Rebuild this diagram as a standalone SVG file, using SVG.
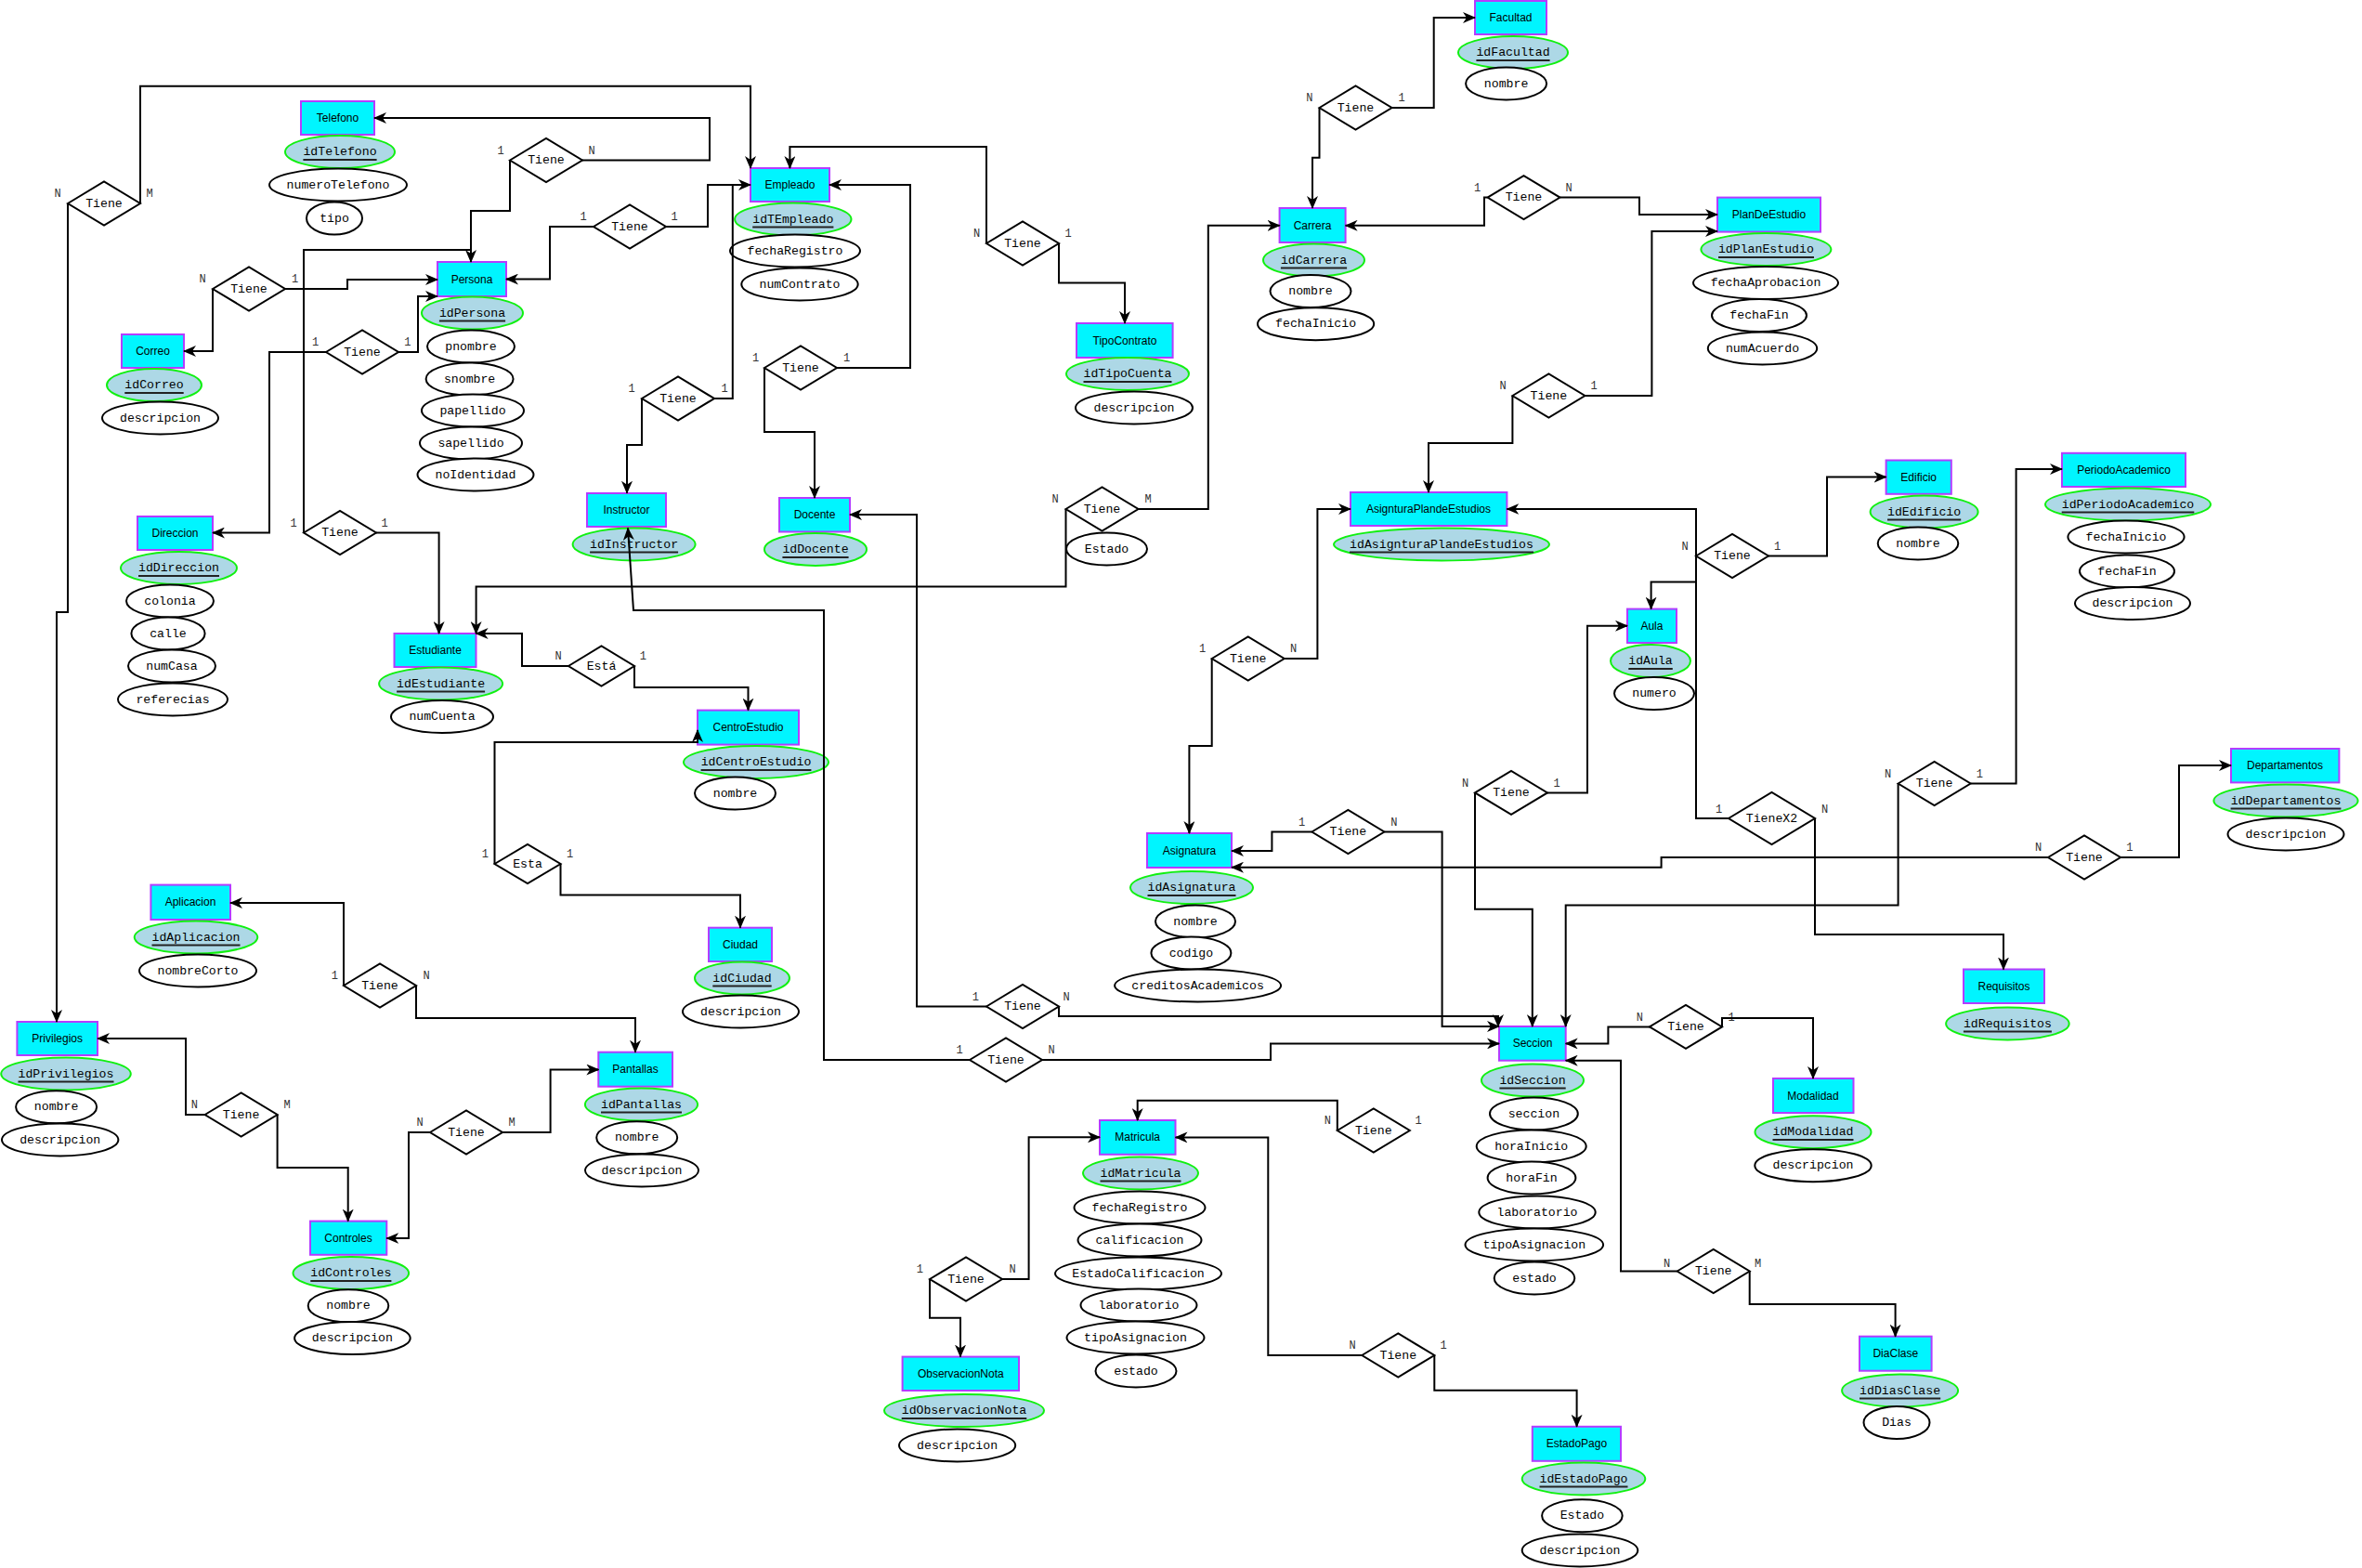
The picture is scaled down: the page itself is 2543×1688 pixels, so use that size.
<svg xmlns="http://www.w3.org/2000/svg" width="2543" height="1688" viewBox="0 0 2543 1688">
<style>
.ent>rect{fill:#00f5ff;stroke:#b43cff;stroke-width:2}
.ent>text{font-family:"Liberation Sans",Arial,sans-serif;font-size:12px;text-anchor:middle;dominant-baseline:central;fill:#000}
ellipse.k{fill:#add8e6;stroke:#10f010;stroke-width:2}
ellipse.a{fill:#fff;stroke:#000;stroke-width:2}
text.t{font-family:"Liberation Mono","Courier New",monospace;font-size:13.2px;text-anchor:middle;dominant-baseline:central;fill:#000}
line.u{stroke:#222;stroke-width:2}
.rel polygon{fill:#fff;stroke:#000;stroke-width:2}
text.c{font-family:"Liberation Mono","Courier New",monospace;font-size:12px;fill:#333;text-anchor:middle;dominant-baseline:central}
#conn path{fill:none;stroke:#000;stroke-width:2;marker-end:url(#arr)}
#conn path.n{marker-end:none}
</style>
<defs>
<marker id="arr" viewBox="0 0 14 12" refX="13" refY="6" markerWidth="14" markerHeight="12" markerUnits="userSpaceOnUse" orient="auto"><path d="M0,0 L14,6 L0,12 L4,6 Z" fill="#000"/></marker>
</defs>
<rect width="2543" height="1688" fill="#fff"/>

<g id="telefono" class="ent"><rect x="324" y="109" width="79" height="36"/><text x="363.5" y="127">Telefono</text>
<ellipse class="k" cx="366" cy="163.5" rx="59" ry="17.5"/><text class="t" x="366" y="163.5">idTelefono</text><line class="u" x1="326.4" x2="405.6" y1="172" y2="172"/>
<ellipse class="a" cx="364" cy="199" rx="74" ry="17.5"/><text class="t" x="364" y="199">numeroTelefono</text>
<ellipse class="a" cx="360" cy="235" rx="30" ry="17.5"/><text class="t" x="360" y="235">tipo</text></g>

<g id="persona" class="ent"><rect x="471" y="282" width="74" height="37"/><text x="508" y="300.5">Persona</text>
<ellipse class="k" cx="508.5" cy="337" rx="54.5" ry="17.5"/><text class="t" x="508.5" y="337">idPersona</text><line class="u" x1="472.9" x2="544.1" y1="345.5" y2="345.5"/>
<ellipse class="a" cx="507" cy="373" rx="47" ry="17.5"/><text class="t" x="507" y="373">pnombre</text>
<ellipse class="a" cx="505.6" cy="408" rx="47" ry="17.5"/><text class="t" x="505.6" y="408">snombre</text>
<ellipse class="a" cx="509" cy="442" rx="55" ry="17.5"/><text class="t" x="509" y="442">papellido</text>
<ellipse class="a" cx="507" cy="477" rx="55" ry="17.5"/><text class="t" x="507" y="477">sapellido</text>
<ellipse class="a" cx="512" cy="511" rx="62.5" ry="17.5"/><text class="t" x="512" y="511">noIdentidad</text></g>

<g id="correo" class="ent"><rect x="131" y="360" width="67" height="36"/><text x="164.5" y="378">Correo</text>
<ellipse class="k" cx="166" cy="414.5" rx="51" ry="17.5"/><text class="t" x="166" y="414.5">idCorreo</text><line class="u" x1="134.3" x2="197.7" y1="423" y2="423"/>
<ellipse class="a" cx="172.5" cy="450" rx="62.5" ry="17.5"/><text class="t" x="172.5" y="450">descripcion</text></g>

<g id="direccion" class="ent"><rect x="148" y="556" width="81" height="36"/><text x="188.5" y="574">Direccion</text>
<ellipse class="k" cx="192.5" cy="611.5" rx="62.5" ry="17.5"/><text class="t" x="192.5" y="611.5">idDireccion</text><line class="u" x1="149" x2="236" y1="620" y2="620"/>
<ellipse class="a" cx="183" cy="647" rx="47" ry="17.5"/><text class="t" x="183" y="647">colonia</text>
<ellipse class="a" cx="181" cy="682" rx="39.6" ry="17.5"/><text class="t" x="181" y="682">calle</text>
<ellipse class="a" cx="185" cy="717" rx="47" ry="17.5"/><text class="t" x="185" y="717">numCasa</text>
<ellipse class="a" cx="186" cy="753" rx="59" ry="17.5"/><text class="t" x="186" y="753">referecias</text></g>

<g id="empleado" class="ent"><rect x="808" y="181" width="85" height="36"/><text x="850.5" y="199">Empleado</text>
<ellipse class="k" cx="853.8" cy="236" rx="62.7" ry="17.5"/><text class="t" x="853.8" y="236">idTEmpleado</text><line class="u" x1="810.2" x2="897.4" y1="244.5" y2="244.5"/>
<ellipse class="a" cx="856" cy="270" rx="70" ry="17.5"/><text class="t" x="856" y="270">fechaRegistro</text>
<ellipse class="a" cx="861" cy="306" rx="62.7" ry="17.5"/><text class="t" x="861" y="306">numContrato</text></g>

<g id="instructor" class="ent"><rect x="632" y="531" width="85" height="36"/><text x="674.5" y="549">Instructor</text>
<ellipse class="k" cx="682.6" cy="586" rx="66" ry="17.5"/><text class="t" x="682.6" y="586">idInstructor</text><line class="u" x1="635.1" x2="730.1" y1="594.5" y2="594.5"/></g>

<g id="docente" class="ent"><rect x="839" y="536" width="76" height="36.5"/><text x="877" y="554">Docente</text>
<ellipse class="k" cx="878" cy="591.4" rx="55" ry="17.5"/><text class="t" x="878" y="591.4">idDocente</text><line class="u" x1="842.4" x2="913.6" y1="600" y2="600"/></g>

<g id="tipocontrato" class="ent"><rect x="1159" y="348" width="103.6" height="37"/><text x="1211" y="366.5">TipoContrato</text>
<ellipse class="k" cx="1214" cy="402.5" rx="66" ry="17.5"/><text class="t" x="1214" y="402.5">idTipoCuenta</text><line class="u" x1="1166.5" x2="1261.5" y1="411" y2="411"/>
<ellipse class="a" cx="1221" cy="439" rx="63" ry="17.5"/><text class="t" x="1221" y="439">descripcion</text></g>

<g id="estudiante" class="ent"><rect x="424.5" y="682" width="88" height="36"/><text x="468.5" y="700">Estudiante</text>
<ellipse class="k" cx="474.6" cy="736" rx="66.5" ry="17.5"/><text class="t" x="474.6" y="736">idEstudiante</text><line class="u" x1="427.1" x2="522.1" y1="744.5" y2="744.5"/>
<ellipse class="a" cx="476" cy="771.5" rx="55" ry="17.5"/><text class="t" x="476" y="771.5">numCuenta</text></g>

<g id="centroestudio" class="ent"><rect x="751" y="764.6" width="109" height="37"/><text x="805.5" y="783">CentroEstudio</text>
<ellipse class="k" cx="814" cy="820.5" rx="78" ry="17.5"/><text class="t" x="814" y="820.5">idCentroEstudio</text><line class="u" x1="754.6" x2="873.4" y1="829" y2="829"/>
<ellipse class="a" cx="791.5" cy="854" rx="43.5" ry="17.5"/><text class="t" x="791.5" y="854">nombre</text></g>

<g id="ciudad" class="ent"><rect x="763" y="998.7" width="68" height="36.3"/><text x="797" y="1017">Ciudad</text>
<ellipse class="k" cx="799" cy="1053" rx="51" ry="17.5"/><text class="t" x="799" y="1053">idCiudad</text><line class="u" x1="767.3" x2="830.7" y1="1061.5" y2="1061.5"/>
<ellipse class="a" cx="797.5" cy="1089" rx="62.5" ry="17.5"/><text class="t" x="797.5" y="1089">descripcion</text></g>

<g id="aplicacion" class="ent"><rect x="162.4" y="952.6" width="85.6" height="37.4"/><text x="205" y="971">Aplicacion</text>
<ellipse class="k" cx="211" cy="1009" rx="66.3" ry="17.5"/><text class="t" x="211" y="1009">idAplicacion</text><line class="u" x1="163.5" x2="258.5" y1="1017.5" y2="1017.5"/>
<ellipse class="a" cx="213" cy="1045" rx="63" ry="17.5"/><text class="t" x="213" y="1045">nombreCorto</text></g>

<g id="privilegios" class="ent"><rect x="18.4" y="1100" width="86.6" height="36"/><text x="61.7" y="1118">Privilegios</text>
<ellipse class="k" cx="71" cy="1156" rx="69.8" ry="17.5"/><text class="t" x="71" y="1156">idPrivilegios</text><line class="u" x1="19.5" x2="122.5" y1="1164.5" y2="1164.5"/>
<ellipse class="a" cx="60.6" cy="1191.8" rx="43.5" ry="17.5"/><text class="t" x="60.6" y="1191.8">nombre</text>
<ellipse class="a" cx="64.7" cy="1227" rx="62.7" ry="17.5"/><text class="t" x="64.7" y="1227">descripcion</text></g>

<g id="controles" class="ent"><rect x="334" y="1314.6" width="82.3" height="36.2"/><text x="375" y="1332.7">Controles</text>
<ellipse class="k" cx="377.8" cy="1370.6" rx="62.3" ry="17.5"/><text class="t" x="377.8" y="1370.6">idControles</text><line class="u" x1="334.3" x2="421.4" y1="1379" y2="1379"/>
<ellipse class="a" cx="375" cy="1405.8" rx="43.3" ry="17.5"/><text class="t" x="375" y="1405.8">nombre</text>
<ellipse class="a" cx="379.4" cy="1440.6" rx="62.3" ry="17.5"/><text class="t" x="379.4" y="1440.6">descripcion</text></g>

<g id="pantallas" class="ent"><rect x="644.3" y="1132.7" width="79.7" height="37"/><text x="684" y="1151">Pantallas</text>
<ellipse class="k" cx="690.5" cy="1189" rx="60.6" ry="17.5"/><text class="t" x="690.5" y="1189">idPantallas</text><line class="u" x1="647" x2="734" y1="1197.5" y2="1197.5"/>
<ellipse class="a" cx="685.7" cy="1224.7" rx="43.5" ry="17.5"/><text class="t" x="685.7" y="1224.7">nombre</text>
<ellipse class="a" cx="691" cy="1260" rx="61" ry="17.5"/><text class="t" x="691" y="1260">descripcion</text></g>

<g id="facultad" class="ent"><rect x="1588" y="1" width="77" height="36"/><text x="1626.5" y="19">Facultad</text>
<ellipse class="k" cx="1629" cy="56.5" rx="59" ry="17.5"/><text class="t" x="1629" y="56.5">idFacultad</text><line class="u" x1="1589.4" x2="1668.6" y1="65" y2="65"/>
<ellipse class="a" cx="1621.6" cy="90" rx="43.5" ry="17.5"/><text class="t" x="1621.6" y="90">nombre</text></g>

<g id="carrera" class="ent"><rect x="1377.6" y="224" width="71" height="37"/><text x="1413" y="242.5">Carrera</text>
<ellipse class="k" cx="1414.5" cy="280" rx="54.5" ry="17.5"/><text class="t" x="1414.5" y="280">idCarrera</text><line class="u" x1="1378.9" x2="1450.1" y1="288.5" y2="288.5"/>
<ellipse class="a" cx="1411" cy="313.5" rx="43.5" ry="17.5"/><text class="t" x="1411" y="313.5">nombre</text>
<ellipse class="a" cx="1416.6" cy="348.7" rx="62.6" ry="17.5"/><text class="t" x="1416.6" y="348.7">fechaInicio</text></g>

<g id="plandeestudio" class="ent"><rect x="1849" y="212.6" width="111" height="37"/><text x="1904.5" y="231">PlanDeEstudio</text>
<ellipse class="k" cx="1901.4" cy="268.5" rx="70" ry="17.5"/><text class="t" x="1901.4" y="268.5">idPlanEstudio</text><line class="u" x1="1850" x2="1953" y1="277" y2="277"/>
<ellipse class="a" cx="1901" cy="304.5" rx="78" ry="17.5"/><text class="t" x="1901" y="304.5">fechaAprobacion</text>
<ellipse class="a" cx="1894" cy="339.5" rx="51" ry="17.5"/><text class="t" x="1894" y="339.5">fechaFin</text>
<ellipse class="a" cx="1897.5" cy="375" rx="58.7" ry="17.5"/><text class="t" x="1897.5" y="375">numAcuerdo</text></g>

<g id="asignaturaplan" class="ent"><rect x="1454" y="530" width="168.4" height="36"/><text x="1538" y="548">AsignturaPlandeEstudios</text>
<ellipse class="k" cx="1552" cy="586" rx="116" ry="17.5"/><text class="t" x="1552" y="586">idAsignturaPlandeEstudios</text><line class="u" x1="1453" x2="1651" y1="594.5" y2="594.5"/></g>

<g id="asignatura" class="ent"><rect x="1235" y="897" width="91" height="37"/><text x="1280.5" y="915.5">Asignatura</text>
<ellipse class="k" cx="1283" cy="955.5" rx="66" ry="17.5"/><text class="t" x="1283" y="955.5">idAsignatura</text><line class="u" x1="1235.5" x2="1330.5" y1="964" y2="964"/>
<ellipse class="a" cx="1287" cy="992" rx="43" ry="17.5"/><text class="t" x="1287" y="992">nombre</text>
<ellipse class="a" cx="1282.4" cy="1026" rx="43" ry="17.5"/><text class="t" x="1282.4" y="1026">codigo</text>
<ellipse class="a" cx="1289.6" cy="1061" rx="89.5" ry="17.5"/><text class="t" x="1289.6" y="1061">creditosAcademicos</text></g>

<g id="aula" class="ent"><rect x="1752" y="655.6" width="53" height="36.4"/><text x="1778.4" y="674">Aula</text>
<ellipse class="k" cx="1777" cy="711.5" rx="43" ry="17.5"/><text class="t" x="1777" y="711.5">idAula</text><line class="u" x1="1753.3" x2="1800.8" y1="720" y2="720"/>
<ellipse class="a" cx="1781" cy="746.5" rx="43" ry="17.5"/><text class="t" x="1781" y="746.5">numero</text></g>

<g id="edificio" class="ent"><rect x="2030.6" y="495.5" width="70.2" height="36.3"/><text x="2065.7" y="513.6">Edificio</text>
<ellipse class="k" cx="2071.6" cy="551" rx="58" ry="17.5"/><text class="t" x="2071.6" y="551">idEdificio</text><line class="u" x1="2032" x2="2111.2" y1="559.5" y2="559.5"/>
<ellipse class="a" cx="2065" cy="585" rx="43.3" ry="17.5"/><text class="t" x="2065" y="585">nombre</text></g>

<g id="periodoacademico" class="ent"><rect x="2220" y="487.8" width="133" height="36.2"/><text x="2286.5" y="506">PeriodoAcademico</text>
<ellipse class="k" cx="2291" cy="543" rx="89" ry="17.5"/><text class="t" x="2291" y="543">idPeriodoAcademico</text><line class="u" x1="2219.7" x2="2362.3" y1="551.5" y2="551.5"/>
<ellipse class="a" cx="2289" cy="578" rx="62.6" ry="17.5"/><text class="t" x="2289" y="578">fechaInicio</text>
<ellipse class="a" cx="2290" cy="615" rx="51" ry="17.5"/><text class="t" x="2290" y="615">fechaFin</text>
<ellipse class="a" cx="2296" cy="649.5" rx="62" ry="17.5"/><text class="t" x="2296" y="649.5">descripcion</text></g>

<g id="departamentos" class="ent"><rect x="2402" y="806" width="116.4" height="36.4"/><text x="2460" y="824">Departamentos</text>
<ellipse class="k" cx="2461" cy="862" rx="77.6" ry="17.5"/><text class="t" x="2461" y="862">idDepartamentos</text><line class="u" x1="2401.6" x2="2520.4" y1="870.5" y2="870.5"/>
<ellipse class="a" cx="2461" cy="898" rx="62.5" ry="17.5"/><text class="t" x="2461" y="898">descripcion</text></g>

<g id="requisitos" class="ent"><rect x="2114" y="1043.5" width="87" height="36.5"/><text x="2157.5" y="1062">Requisitos</text>
<ellipse class="k" cx="2161.4" cy="1102" rx="66.3" ry="17.5"/><text class="t" x="2161.4" y="1102">idRequisitos</text><line class="u" x1="2113.9" x2="2208.9" y1="1110.5" y2="1110.5"/></g>

<g id="seccion" class="ent"><rect x="1614" y="1105" width="71.7" height="36.7"/><text x="1650" y="1123.4">Seccion</text>
<ellipse class="k" cx="1650" cy="1163" rx="55" ry="17.5"/><text class="t" x="1650" y="1163">idSeccion</text><line class="u" x1="1614.4" x2="1685.7" y1="1171.5" y2="1171.5"/>
<ellipse class="a" cx="1651.4" cy="1199" rx="47.4" ry="17.5"/><text class="t" x="1651.4" y="1199">seccion</text>
<ellipse class="a" cx="1648.7" cy="1234" rx="59" ry="17.5"/><text class="t" x="1648.7" y="1234">horaInicio</text>
<ellipse class="a" cx="1649" cy="1268" rx="47.4" ry="17.5"/><text class="t" x="1649" y="1268">horaFin</text>
<ellipse class="a" cx="1655" cy="1305" rx="62.7" ry="17.5"/><text class="t" x="1655" y="1305">laboratorio</text>
<ellipse class="a" cx="1651.8" cy="1340" rx="74.3" ry="17.5"/><text class="t" x="1651.8" y="1340">tipoAsignacion</text>
<ellipse class="a" cx="1652" cy="1376" rx="43.3" ry="17.5"/><text class="t" x="1652" y="1376">estado</text></g>

<g id="modalidad" class="ent"><rect x="1909" y="1161" width="86.5" height="37"/><text x="1952" y="1179.5">Modalidad</text>
<ellipse class="k" cx="1952" cy="1218.7" rx="62.5" ry="17.5"/><text class="t" x="1952" y="1218.7">idModalidad</text><line class="u" x1="1908.5" x2="1995.5" y1="1227" y2="1227"/>
<ellipse class="a" cx="1952" cy="1254.7" rx="62.7" ry="17.5"/><text class="t" x="1952" y="1254.7">descripcion</text></g>

<g id="diaclase" class="ent"><rect x="2002" y="1438.7" width="77.6" height="37"/><text x="2040.8" y="1457">DiaClase</text>
<ellipse class="k" cx="2045.6" cy="1497" rx="62.5" ry="17.5"/><text class="t" x="2045.6" y="1497">idDiasClase</text><line class="u" x1="2002" x2="2089.2" y1="1505.5" y2="1505.5"/>
<ellipse class="a" cx="2042" cy="1531.5" rx="35.5" ry="17.5"/><text class="t" x="2042" y="1531.5">Dias</text></g>

<g id="matricula" class="ent"><rect x="1184" y="1206" width="81.5" height="36.8"/><text x="1224.7" y="1224.4">Matricula</text>
<ellipse class="k" cx="1228" cy="1263" rx="62" ry="17.5"/><text class="t" x="1228" y="1263">idMatricula</text><line class="u" x1="1184.5" x2="1271.5" y1="1271.5" y2="1271.5"/>
<ellipse class="a" cx="1227" cy="1300" rx="70.5" ry="17.5"/><text class="t" x="1227" y="1300">fechaRegistro</text>
<ellipse class="a" cx="1227" cy="1335" rx="66.5" ry="17.5"/><text class="t" x="1227" y="1335">calificacion</text>
<ellipse class="a" cx="1225.5" cy="1371" rx="89.5" ry="17.5"/><text class="t" x="1225.5" y="1371">EstadoCalificacion</text>
<ellipse class="a" cx="1226" cy="1405" rx="62.5" ry="17.5"/><text class="t" x="1226" y="1405">laboratorio</text>
<ellipse class="a" cx="1222.5" cy="1440" rx="74" ry="17.5"/><text class="t" x="1222.5" y="1440">tipoAsignacion</text>
<ellipse class="a" cx="1223" cy="1476" rx="43.5" ry="17.5"/><text class="t" x="1223" y="1476">estado</text></g>

<g id="observacionnota" class="ent"><rect x="971.6" y="1460.6" width="125.4" height="36.4"/><text x="1034.3" y="1479">ObservacionNota</text>
<ellipse class="k" cx="1038" cy="1518.5" rx="86" ry="17.5"/><text class="t" x="1038" y="1518.5">idObservacionNota</text><line class="u" x1="970.7" x2="1105.3" y1="1527" y2="1527"/>
<ellipse class="a" cx="1030.6" cy="1556" rx="62.6" ry="17.5"/><text class="t" x="1030.6" y="1556">descripcion</text></g>

<g id="estadopago" class="ent"><rect x="1649.8" y="1535.8" width="95.2" height="37"/><text x="1697.4" y="1554">EstadoPago</text>
<ellipse class="k" cx="1705" cy="1592" rx="66.3" ry="17.5"/><text class="t" x="1705" y="1592">idEstadoPago</text><line class="u" x1="1657.5" x2="1752.5" y1="1600.5" y2="1600.5"/>
<ellipse class="a" cx="1703.4" cy="1631.7" rx="43.3" ry="17.5"/><text class="t" x="1703.4" y="1631.7">Estado</text>
<ellipse class="a" cx="1701" cy="1669" rx="62.3" ry="17.5"/><text class="t" x="1701" y="1669">descripcion</text></g>

<g id="r1" class="rel"><polygon points="73,219 112,195.5 151,219 112,242.5"/><text class="t" x="112" y="219">Tiene</text><text class="c" x="62" y="209">N</text><text class="c" x="161" y="209">M</text></g>
<g id="r2" class="rel"><polygon points="549,172.5 588,149 627,172.5 588,196"/><text class="t" x="588" y="172.5">Tiene</text><text class="c" x="539" y="163">1</text><text class="c" x="637" y="163">N</text></g>
<g id="r3" class="rel"><polygon points="639,244 678,220.5 717,244 678,267.5"/><text class="t" x="678" y="244">Tiene</text><text class="c" x="628" y="234">1</text><text class="c" x="726" y="234">1</text></g>
<g id="r4" class="rel"><polygon points="229,311 268,287.5 307,311 268,334.5"/><text class="t" x="268" y="311">Tiene</text><text class="c" x="218" y="301">N</text><text class="c" x="317.5" y="301">1</text></g>
<g id="r5" class="rel"><polygon points="351,379 390,355.5 429,379 390,402.5"/><text class="t" x="390" y="379">Tiene</text><text class="c" x="339.6" y="369">1</text><text class="c" x="438.8" y="369">1</text></g>
<g id="r6" class="rel"><polygon points="327,573.5 366,550 405,573.5 366,597"/><text class="t" x="366" y="573.5">Tiene</text><text class="c" x="316" y="563.6">1</text><text class="c" x="414" y="563.6">1</text></g>
<g id="r7" class="rel"><polygon points="691,429 730,405.5 769,429 730,452.5"/><text class="t" x="730" y="429">Tiene</text><text class="c" x="680" y="419">1</text><text class="c" x="780" y="419">1</text></g>
<g id="r8" class="rel"><polygon points="823,396 862,372.5 901,396 862,419.5"/><text class="t" x="862" y="396">Tiene</text><text class="c" x="813.7" y="386">1</text><text class="c" x="911.6" y="386">1</text></g>
<g id="r9" class="rel"><polygon points="1062,262 1101,238.5 1140,262 1101,285.5"/><text class="t" x="1101" y="262">Tiene</text><text class="c" x="1051.6" y="251.5">N</text><text class="c" x="1150" y="251.5">1</text></g>
<g id="r10" class="rel"><polygon points="1147.5,548 1186.5,524.5 1225.5,548 1186.5,571.5"/><text class="t" x="1186.5" y="548">Tiene</text><text class="c" x="1136" y="538">N</text><text class="c" x="1236" y="538">M</text>
<ellipse class="a" cx="1191.5" cy="591" rx="43.5" ry="17.5"/><text class="t" x="1191.5" y="591">Estado</text></g>
<g id="r11" class="rel"><polygon points="612,717 647.5,695.5 683,717 647.5,738.5"/><text class="t" x="647.5" y="717">Está</text><text class="c" x="601" y="707">N</text><text class="c" x="692.4" y="707">1</text></g>
<g id="r12" class="rel"><polygon points="532.5,930 568,909 603.5,930 568,951"/><text class="t" x="568" y="930">Esta</text><text class="c" x="522.4" y="920">1</text><text class="c" x="613.5" y="920">1</text></g>
<g id="r13" class="rel"><polygon points="370,1061 409,1037.5 448,1061 409,1084.5"/><text class="t" x="409" y="1061">Tiene</text><text class="c" x="360.4" y="1050.7">1</text><text class="c" x="459" y="1050.7">N</text></g>
<g id="r14" class="rel"><polygon points="220.6,1200 259.6,1176.5 298.6,1200 259.6,1223.5"/><text class="t" x="259.6" y="1200">Tiene</text><text class="c" x="209.4" y="1190">N</text><text class="c" x="309" y="1190">M</text></g>
<g id="r15" class="rel"><polygon points="463,1219 502,1195.5 541,1219 502,1242.5"/><text class="t" x="502" y="1219">Tiene</text><text class="c" x="452" y="1208.8">N</text><text class="c" x="551" y="1208.8">M</text></g>
<g id="r16" class="rel"><polygon points="1062,1083.5 1101,1060 1140,1083.5 1101,1107"/><text class="t" x="1101" y="1083.5">Tiene</text><text class="c" x="1050.4" y="1073.6">1</text><text class="c" x="1148" y="1073.6">N</text></g>
<g id="r17" class="rel"><polygon points="1044,1141 1083,1117.5 1122,1141 1083,1164.5"/><text class="t" x="1083" y="1141">Tiene</text><text class="c" x="1033" y="1131">1</text><text class="c" x="1132" y="1131">N</text></g>
<g id="r18" class="rel"><polygon points="1420.5,116 1459.5,92.5 1498.5,116 1459.5,139.5"/><text class="t" x="1459.5" y="116">Tiene</text><text class="c" x="1409.8" y="106">N</text><text class="c" x="1509" y="106">1</text></g>
<g id="r19" class="rel"><polygon points="1601.5,212.6 1640.5,189.1 1679.5,212.6 1640.5,236.1"/><text class="t" x="1640.5" y="212.6">Tiene</text><text class="c" x="1590.6" y="203">1</text><text class="c" x="1689" y="203">N</text></g>
<g id="r20" class="rel"><polygon points="1628.4,426 1667.4,402.5 1706.4,426 1667.4,449.5"/><text class="t" x="1667.4" y="426">Tiene</text><text class="c" x="1618" y="416">N</text><text class="c" x="1716" y="416">1</text></g>
<g id="r21" class="rel"><polygon points="1304.7,709 1343.7,685.5 1382.7,709 1343.7,732.5"/><text class="t" x="1343.7" y="709">Tiene</text><text class="c" x="1294.7" y="699">1</text><text class="c" x="1392.6" y="699">N</text></g>
<g id="r22" class="rel"><polygon points="1861,881 1907.5,853 1954,881 1907.5,909"/><text class="t" x="1907.5" y="881">TieneX2</text><text class="c" x="1850.6" y="871.5">1</text><text class="c" x="1964.5" y="871.5">N</text></g>
<g id="r23" class="rel"><polygon points="1826,598.5 1865,575 1904,598.5 1865,622"/><text class="t" x="1865" y="598.5">Tiene</text><text class="c" x="1814" y="589">N</text><text class="c" x="1913.5" y="589">1</text></g>
<g id="r24" class="rel"><polygon points="1588,853.4 1627,829.9 1666,853.4 1627,876.9"/><text class="t" x="1627" y="853.4">Tiene</text><text class="c" x="1577.6" y="843.5">N</text><text class="c" x="1676" y="843.5">1</text></g>
<g id="r25" class="rel"><polygon points="1412.4,895.5 1451.4,872 1490.4,895.5 1451.4,919"/><text class="t" x="1451.4" y="895.5">Tiene</text><text class="c" x="1401.6" y="886">1</text><text class="c" x="1500.8" y="886">N</text></g>
<g id="r26" class="rel"><polygon points="2205,923 2244,899.5 2283,923 2244,946.5"/><text class="t" x="2244" y="923">Tiene</text><text class="c" x="2194.6" y="912.6">N</text><text class="c" x="2292.8" y="912.6">1</text></g>
<g id="r27" class="rel"><polygon points="2043.6,843.5 2082.6,820 2121.6,843.5 2082.6,867"/><text class="t" x="2082.6" y="843.5">Tiene</text><text class="c" x="2032.6" y="833.7">N</text><text class="c" x="2131.4" y="833.7">1</text></g>
<g id="r28" class="rel"><polygon points="1776,1105.4 1815,1081.9 1854,1105.4 1815,1128.9"/><text class="t" x="1815" y="1105.4">Tiene</text><text class="c" x="1765.3" y="1096">N</text><text class="c" x="1864" y="1096">1</text></g>
<g id="r29" class="rel"><polygon points="1805.7,1368.5 1844.7,1345 1883.7,1368.5 1844.7,1392"/><text class="t" x="1844.7" y="1368.5">Tiene</text><text class="c" x="1794.7" y="1360.8">N</text><text class="c" x="1892.6" y="1360.8">M</text></g>
<g id="r30" class="rel"><polygon points="1439.8,1217 1478.8,1193.5 1517.8,1217 1478.8,1240.5"/><text class="t" x="1478.8" y="1217">Tiene</text><text class="c" x="1429.4" y="1207">N</text><text class="c" x="1527" y="1207">1</text></g>
<g id="r31" class="rel"><polygon points="1001,1377 1040,1353.5 1079,1377 1040,1400.5"/><text class="t" x="1040" y="1377">Tiene</text><text class="c" x="990.4" y="1367">1</text><text class="c" x="1090" y="1367">N</text></g>
<g id="r32" class="rel"><polygon points="1466.3,1459 1505.3,1435.5 1544.3,1459 1505.3,1482.5"/><text class="t" x="1505.3" y="1459">Tiene</text><text class="c" x="1456" y="1449">N</text><text class="c" x="1554" y="1449">1</text></g>

<g id="conn">
<path d="M151,219 V92.7 H808 V181"/>
<path d="M73,219 V659 H61 V1100"/>
<path d="M627,172.5 H764 V127 H403"/>
<path d="M549,172.5 V227 H507 V282"/>
<path d="M717,244 H762 V199 H808"/>
<path d="M639,244 H592 V300.6 H545"/>
<path d="M307,311 H374 V301 H471"/>
<path d="M229,311 V378 H198"/>
<path d="M429,379 H450 V319 H471"/>
<path d="M351,379 H290 V573.5 H229"/>
<path class="n" d="M327,573.5 V269 H507"/>
<path d="M405,573.5 H472.6 V682"/>
<path class="n" d="M769,429 H788.8 V199"/>
<path d="M691,429 V479 H675 V530.7"/>
<path d="M901,396 H980 V199 H893"/>
<path d="M823,396 V465 H877 V536"/>
<path d="M1062,262 V158 H850.4 V181"/>
<path d="M1140,262 V304.6 H1211 V348"/>
<path d="M1225.5,548 H1300.8 V242.8 H1377.6"/>
<path d="M1147.5,548 V631.6 H512.6 V682"/>
<path d="M612,717 H562 V682 H512.6"/>
<path d="M683,717 V740 H805.5 V764.6"/>
<path d="M532.5,930 V799 H751 V786"/>
<path d="M603.5,930 V963.5 H797 V998.7"/>
<path d="M1044,1141 H887 V657 H682 L676,568.5"/>
<path d="M1122,1141 H1368 V1123.4 H1614"/>
<path d="M1062,1083.5 H987 V554 H915"/>
<path d="M1140,1083.5 V1094 H1613 V1105"/>
<path d="M1420.5,116 V169.8 H1413 V224"/>
<path d="M1498.5,116 H1543.7 V19 H1588"/>
<path d="M1601.5,212.6 H1598 V242.8 H1448.6"/>
<path d="M1679.5,212.6 H1765 V231 H1849"/>
<path d="M1706.4,426 H1778.4 V249 H1849"/>
<path d="M1628.4,426 V477 H1538 V530"/>
<path d="M1382.7,709 H1418.4 V548 H1454"/>
<path d="M1304.7,709 V803 H1280.4 V897"/>
<path d="M1861,881 H1826 V548 H1622.4"/>
<path d="M1954,881 V1006 H2157 V1043.5"/>
<path d="M1904,598.5 H1967 V513.6 H2030.6"/>
<path d="M1826,598.5 V626.5 H1777.6 V655.6"/>
<path d="M1666,853.4 H1709 V673.8 H1752"/>
<path d="M1588,853.4 V978.7 H1649.8 V1105"/>
<path d="M1412.4,895.5 H1369.4 V916 H1326"/>
<path d="M1490.4,895.5 H1552.6 V1105 H1614"/>
<path d="M2205,923 H1788.6 V933.7 H1326"/>
<path d="M2283,923 H2346 V824 H2402"/>
<path d="M2121.6,843.5 H2170.6 V505 H2220"/>
<path d="M2043.6,843.5 V974.4 H1685.7 V1105"/>
<path d="M1776,1105.4 H1731.4 V1123.4 H1685.7"/>
<path d="M1854,1105.4 V1096 H1952 V1161"/>
<path d="M1805.7,1368.5 H1745 V1141.7 H1685.7"/>
<path d="M1883.7,1368.5 V1404 H2040.6 V1438.7"/>
<path d="M1439.8,1217 V1184.7 H1224.7 V1206"/>
<path d="M1079,1377 H1107.6 V1224.3 H1184"/>
<path d="M1001,1377 V1418.8 H1034 V1460.6"/>
<path d="M1466.3,1459 H1365.3 V1224.4 H1265.5"/>
<path d="M1544.3,1459 V1496.7 H1697.6 V1535.8"/>
<path d="M370,1061 V972 H248"/>
<path d="M448,1061 V1096 H684 V1132.7"/>
<path d="M220.6,1200 H200 V1118 H105"/>
<path d="M298.6,1200 V1257 H374.7 V1314.6"/>
<path d="M463,1219 H440 V1333 H416.3"/>
<path d="M541,1219 H592.6 V1151.5 H644.3"/>
</g>
</svg>
